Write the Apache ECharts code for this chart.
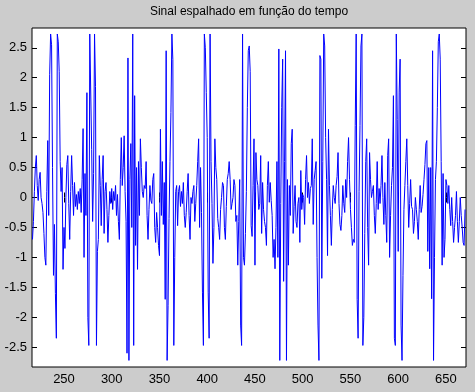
<!DOCTYPE html>
<html>
<head>
<meta charset="utf-8">
<script src="https://cdn.jsdelivr.net/npm/echarts@6/dist/echarts.min.js"></script>
<style>
  html, body { margin: 0; padding: 0; background: #cccccc; }
  #chart { width: 475px; height: 392px; }
</style>
</head>
<body>
<div id="chart"></div>
<script>
// Title and tick labels
const titleText = "Sinal espalhado em função do tempo";
const xTicks = [250, 300, 350, 400, 450, 500, 550, 600, 650];
const yTicks = [-2.5, -2, -1.5, -1, -0.5, 0, 0.5, 1, 1.5, 2, 2.5];
const xFirst = 217; // first sample time; one sample per time unit

// Signal values (t = 217 ... 670)
const sigA = [-0.7,-0.4,0.1,0.5,0.7,0.2,-0.05,0.3,0.42,0.0,-0.1,-0.25,-0.6,-1.0,-1.13,0.1,0.95,-0.3,2.05,2.73,2.55,0.5,-1.3,-0.45,-1.6,-2.35,2.73,2.6,2.1,0.6,0.1,0.5,-1.2];
const sigB = [-0.5,-0.85,0.0,0.55,0.7,-0.1,-0.7,0.1,0.7,0.2,-0.3,0.25,-0.15,0.05,-0.2,0.1,-0.1,0.15,-0.25,0.3,1.15,-1.0,0.4];
const sigC = [-0.3,1.75,-2.0,-2.47,2.73,2.73,0.8,-0.4,0.4,2.73,1.85,-2.47,-0.9,-0.7,0.7];
const sigD = [0.2,-0.47,0.3,0.7,-0.6,0.1,0.25,-0.2,-0.75,-0.3,0.1,-0.1,0.15,-0.2,0.1,-0.05,0.2,-0.3,0.05,-0.4,-0.7,0.3,1.0,0.2,0.5,1.03,0.1];
const sigE = [-0.4,-2.6,2.33,-2.72,0.3,0.9,-0.5,2.73,-2.47,1.7,-0.8,0.5,-1.2,0.6,-0.3];
const sigF = [0.98,0.5,0.1,0.0,0.2,0.15,0.6,-0.3,-0.7,-0.2,
  0.2,-0.05,-0.1,0.3,0.4,-0.5,-0.75,-0.25,-0.5,-0.8,
  -0.97,1.14,-0.3,0.6,-0.45,0.25,-1.7,2.45,-2.72,-1.8,
  -0.35,0.6,1.42,2.73,2.3,-2.47,-1.0,0.1,0.2,-0.47,
  0.1,0.2,-0.15,0.1,-0.1,0.25,-0.3,-0.5,-0.25,0.1,
  0.4,-0.3,-0.7,0.0,-0.1,0.1,0.2,-0.4,-0.1,0.2,
  0.6,0.98,-0.5,0.5,-0.25,-1.58,-2.47,2.73,2.5,1.75,
  1.0,-1.58,-2.35,2.73,0.6,-0.1,-1.1,-0.5,0.98,0.5,
  0.3,-0.35,-0.5,-0.7,-0.2,0.0,0.25,0.2,-0.5,-0.7,
  -0.15,0.3,0.4,0.6,0.3,-0.2,-0.1,0.0,0.3,0.2,
  -0.4,-0.3,-1.13,-0.4,0.3,-2.13,-2.47,2.73,-1.0,-1.13,
  -0.6,0.1,1.5,2.45,2.53];
const sigG = [2.1,-0.47,-0.65,0.2,0.98,-1.13,0.75,0.3,0.2,-0.2,
  -0.1,0.7,-0.6,0.25,-0.2,-0.4,-0.5,-0.8,0.2,0.6,
  -0.08,0.25,-0.05,-0.3,-1.0,-0.7,-1.19,-0.5,0.6,-1.0,
  2.48,-2.72,-0.1,1.5,2.31,-1.4,0.6,2.45,-2.72,0.3,
  -1.13,0.2,-0.3,0.9,1.14,-0.6,-0.15,0.2,-0.4,-0.5,
  -0.1,0.0,-0.75,0.45,-0.2,0.05,0.0,-0.45,0.3,0.7,
  0.0,0.25,-0.1,0.15,0.2,0.98,-0.45,0.3,0.45,0.6,
  -1.0,-2.13,-2.72,2.37,2.31,-1.35,0.6,2.73,2.53,1.0,
  0.3,-0.97,1.14,0.2,-0.3,-0.8,-0.2,0.2,0.0,-0.1,
  0.2,0.35,0.75,-0.1,-0.45,-0.55,-0.3,0.2,-0.1,-0.25,
  0.3,0.0,0.6,1.0,0.3,-0.2,-0.5,-0.8,-0.7,-0.75,
  1.2,2.73,-1.7,-2.35,0.1];
const sigH = [1.2,2.53,2.73,-2.47,-2.0,-0.6,0.6,0.98,-0.5,-1.13,
  0.75,0.3,0.0,0.1,0.2,-0.3,-0.6,-0.1,0.6,-0.2,
  0.15,-0.1,0.2,0.7,0.0,-0.45,0.25,-0.3,-0.75,0.7,
  0.98,-1.0,-0.3,0.2,0.5,1.7,-2.35,-2.47,2.73,1.3,
  -0.9,1.76,2.31,-2.13,-2.72,-1.3,-0.2,0.2,0.6,0.98,
  0.2,-0.5,-0.1,0.3,-0.15,-0.2,-0.6,-0.4,0.0,-0.2,
  -0.4,-0.7,-0.2,0.2,-0.25,-0.15,0.05,0.3,0.55,0.9,
  0.95,-0.9,0.5,-1.19,0.5,-1.69,2.45,-2.72,-1.0,0.3,
  0.6,1.5,2.6,2.73,2.31,0.6,-1.13,0.4,-1.0,-0.7,
  0.3,0.2,-0.1,0.2,-0.2,-0.47,0.0,-0.4,-0.75,-0.5,
  -0.3,0.1,-0.4,-0.75,-0.4,0.0,-0.3,-0.5,-0.75,-0.8,
  -0.2];

const signal = [].concat(sigA, sigB, sigC, sigD, sigE, sigF, sigG, sigH);
const seriesData = signal.map((v, i) => [xFirst + i, v]);

const FONT = '"Liberation Sans", Arial, Helvetica, sans-serif';
const X_MIN = 216.5, X_MAX = 671, Y_MIN = -2.83, Y_MAX = 2.83;

const chart = echarts.init(document.getElementById('chart'), null, { renderer: 'canvas' });

function xAxisCfg(pos, showLabel) {
  return {
    type: 'value', position: pos, min: X_MIN, max: X_MAX,
    axisLine: { show: false },
    splitLine: { show: false },
    axisTick: { show: true, inside: true, length: 5, customValues: xTicks, lineStyle: { color: '#000', width: 1 } },
    axisLabel: { show: showLabel, customValues: xTicks, color: '#000', fontSize: 13, fontFamily: FONT, margin: 6 }
  };
}
function yAxisCfg(pos, showLabel) {
  return {
    type: 'value', position: pos, min: Y_MIN, max: Y_MAX,
    axisLine: { show: false },
    splitLine: { show: false },
    axisTick: { show: true, inside: true, length: 5, customValues: yTicks, lineStyle: { color: '#000', width: 1 } },
    axisLabel: { show: showLabel, customValues: yTicks, color: '#000', fontSize: 13, fontFamily: FONT, margin: 5 }
  };
}

chart.setOption({
  animation: false,
  backgroundColor: '#cccccc',
  grid: {
    left: 32, top: 28, right: 9, bottom: 25,
    show: true, backgroundColor: '#ffffff', borderColor: '#000000', borderWidth: 1
  },
  graphic: [{
    type: 'text', x: 249, y: 12,
    style: { text: titleText, fill: '#000', font: '12px ' + FONT, textAlign: 'center', textVerticalAlign: 'middle' }
  }],
  xAxis: [xAxisCfg('bottom', true), xAxisCfg('top', false)],
  yAxis: [yAxisCfg('left', true), yAxisCfg('right', false)],
  series: [{
    type: 'line', xAxisIndex: 0, yAxisIndex: 0,
    data: seriesData, showSymbol: false, symbol: 'none',
    lineStyle: { color: '#0000ff', width: 1 },
    emphasis: { disabled: true }
  }]
});
</script>
</body>
</html>
